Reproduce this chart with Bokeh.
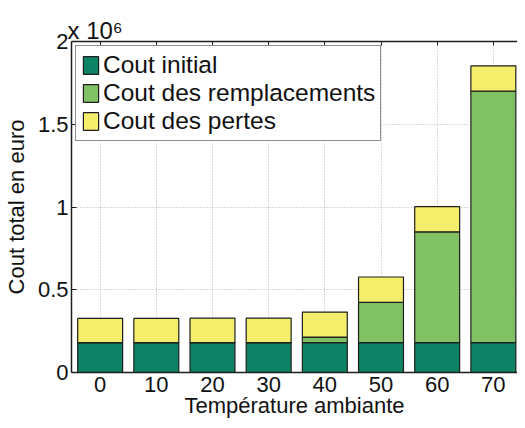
from bokeh.plotting import figure
from bokeh.models import ColumnDataSource, Range1d, FixedTicker, LinearAxis, Title
from bokeh.embed import file_html
from bokeh.resources import INLINE

# ---- data ----
temperatures = [0, 10, 20, 30, 40, 50, 60, 70]
cout_initial = [180000, 180000, 180000, 180000, 180000, 180000, 180000, 180000]
cout_remplacements = [0, 0, 0, 0, 34000, 244000, 670000, 1520000]
cout_pertes = [147000, 147000, 148000, 149000, 151000, 153000, 152000, 153000]
series_keys = ["initial", "remplacements", "pertes"]
series_names = ["Cout initial", "Cout des remplacements", "Cout des pertes"]
series_colors = ["#0E8264", "#80C166", "#F5EE6B"]
y_ticks = [0, 500000, 1000000, 1500000, 2000000]
y_tick_labels = ["0", "0.5", "1", "1.5", "2"]
x_title = "Température ambiante"
y_title = "Cout total en euro"
exponent_text = "x 10\u2076"

FONT = "Liberation Sans"
DARK = "#1e1e1e"

source = ColumnDataSource(dict(
    x=temperatures,
    initial=cout_initial,
    remplacements=cout_remplacements,
    pertes=cout_pertes,
))

p = figure(width=517, height=420, output_backend="svg", toolbar_location=None,
           x_range=Range1d(-5.1, 74.3), y_range=Range1d(0, 2000000),
           min_border=0, min_border_left=65, min_border_right=0,
           min_border_top=41, min_border_bottom=0)
p.outline_line_color = None
p.background_fill_color = "white"
p.border_fill_color = "white"

p.vbar_stack(series_keys, x="x", width=8, source=source, color=series_colors,
             line_color=DARK, line_width=1.2, legend_label=series_names)

# axes
for ax in (p.xaxis[0], p.yaxis[0]):
    ax.axis_line_color = DARK
    ax.axis_line_width = 1.5
    ax.major_tick_line_color = DARK
    ax.minor_tick_line_color = None
    ax.major_tick_out = 0
    ax.major_label_text_font = FONT
    ax.major_label_text_font_size = "22px"
    ax.major_label_text_color = "#111111"
    ax.axis_label_text_font = FONT
    ax.axis_label_text_font_size = "22px"
    ax.axis_label_text_font_style = "normal"
    ax.axis_label_text_color = "#111111"

p.xaxis.ticker = FixedTicker(ticks=temperatures)
p.xaxis.major_tick_in = 0
p.xaxis.major_label_standoff = 4
p.xaxis.major_label_text_line_height = 0.9
p.xaxis.axis_label = x_title
p.xaxis.axis_label_standoff = -2
p.xaxis.axis_label_text_line_height = 0.9

p.yaxis.ticker = FixedTicker(ticks=y_ticks)
p.yaxis.major_label_overrides = dict(zip(y_ticks, y_tick_labels))
p.yaxis.major_tick_in = 5
p.yaxis.major_label_standoff = 3
p.yaxis.axis_label = y_title
p.yaxis.axis_label_standoff = 6

# top border with inward ticks (minor ticks only, so no labels)
top_ax = LinearAxis(ticker=FixedTicker(ticks=[], minor_ticks=temperatures),
                    major_label_standoff=0, major_tick_in=0, major_tick_out=0,
                    minor_tick_in=4, minor_tick_out=0, minor_tick_line_color=DARK,
                    axis_line_color=DARK, axis_line_width=1.5)
p.add_layout(top_ax, "above")

# exponent of the y axis
p.add_layout(Title(text=exponent_text, align="left", offset=-4, standoff=-4,
                   text_font=FONT, text_font_size="24px", text_font_style="normal",
                   text_color="#111111"), "above")

# grid
p.xgrid.ticker = FixedTicker(ticks=temperatures)
p.ygrid.ticker = FixedTicker(ticks=y_ticks)
for g in (p.xgrid[0], p.ygrid[0]):
    g.grid_line_color = "#b4b4b4"
    g.grid_line_dash = "1 2"
    g.grid_line_width = 1

# legend
lg = p.legend[0]
lg.location = "top_left"
lg.margin = 4
lg.padding = 5
lg.spacing = 0
lg.glyph_width = 19
lg.glyph_height = 22
lg.label_height = 22
lg.label_standoff = 3
lg.label_text_font = FONT
lg.label_text_font_size = "24.5px"
lg.label_text_color = "#111111"
lg.border_line_color = DARK
lg.border_line_width = 1.5
lg.background_fill_alpha = 1

open("out.html", "w").write(file_html(p, INLINE))
